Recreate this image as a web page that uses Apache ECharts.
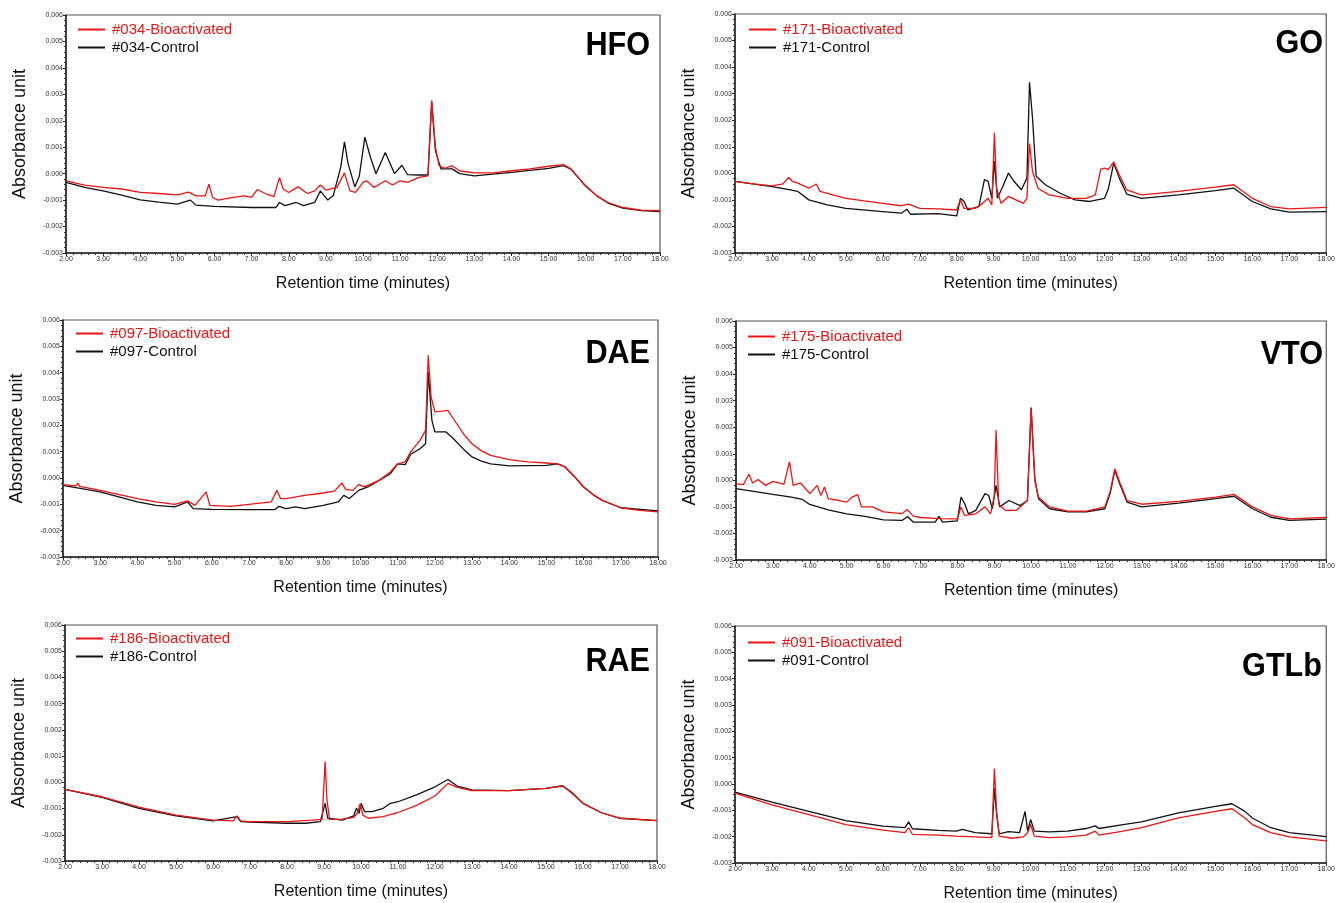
<!DOCTYPE html>
<html>
<head>
<meta charset="utf-8">
<title>Chromatograms</title>
<script src="https://cdn.jsdelivr.net/npm/echarts@6.0.0/dist/echarts.min.js"></script>
<style>
  html, body { margin: 0; padding: 0; background: #fff; }
  #chart { width: 1338px; height: 903px; }
</style>
</head>
<body>
<div id="chart"></div>
<script>
// retention time (min), absorbance
var hfoRed = [[2.0,-0.00027],[2.5,-0.00043],[3.0,-0.00052],[3.5,-0.00058],[4.0,-0.00071],[4.5,-0.00075],[5.0,-0.0008],[5.3,-0.0007],[5.5,-0.00084],[5.75,-0.00084],[5.85,-0.0004],[5.95,-0.0009],[6.1,-0.001],[6.5,-0.0009],[6.8,-0.00084],[7.0,-0.0009],[7.15,-0.0006],[7.4,-0.00077],[7.6,-0.00087],[7.75,-0.00015],[7.85,-0.00058],[8.0,-0.00071],[8.25,-0.0005],[8.5,-0.00075],[8.7,-0.00065],[8.85,-0.00043],[9.0,-0.00062],[9.3,-0.00052],[9.5,0.00003],[9.65,-0.00065],[9.8,-0.00071],[10.0,-0.00033],[10.1,-0.00027],[10.3,-0.00052],[10.6,-0.00027],[10.8,-0.00043],[11.0,-0.00027],[11.2,-0.00033],[11.5,-0.00014],[11.75,-0.00008],[11.85,0.00277],[11.95,0.001],[12.05,0.0003],[12.2,0.0002],[12.4,0.0003],[12.6,0.00011],[13.0,0.00003],[13.5,0.00003],[14.0,0.00011],[14.5,0.00018],[15.0,0.00028],[15.4,0.00034],[15.6,0.00018],[16.0,-0.00046],[16.3,-0.00084],[16.6,-0.00109],[17.0,-0.00128],[17.5,-0.00138],[18.0,-0.0014]];
var hfoBlack = [[2.0,-0.00033],[2.5,-0.00052],[3.0,-0.00065],[3.5,-0.00081],[4.0,-0.00099],[4.5,-0.00108],[5.0,-0.00115],[5.35,-0.001],[5.5,-0.00119],[6.0,-0.00124],[7.0,-0.00128],[7.65,-0.00128],[7.75,-0.00109],[7.9,-0.00121],[8.2,-0.00109],[8.4,-0.00121],[8.7,-0.00109],[8.85,-0.00065],[9.05,-0.001],[9.2,-0.00083],[9.4,0.00025],[9.5,0.0012],[9.6,0.00037],[9.78,-0.0005],[9.9,-0.0001],[10.05,0.00138],[10.2,0.00062],[10.35,0.0],[10.6,0.0008],[10.85,0.0],[11.05,0.00032],[11.2,-0.00004],[11.5,-0.00005],[11.75,-0.00005],[11.85,0.00271],[11.95,0.00087],[12.1,0.00018],[12.4,0.00018],[12.6,0.0],[13.0,-0.00008],[14.0,0.00005],[15.0,0.0002],[15.4,0.0003],[15.6,0.00017],[16.0,-0.00048],[16.3,-0.00084],[16.6,-0.00111],[17.0,-0.0013],[17.5,-0.0014],[18.0,-0.00143]];

var goRed = [[2.0,-0.0003],[2.5,-0.0004],[3.0,-0.00047],[3.3,-0.0004],[3.45,-0.00015],[3.55,-0.0003],[3.7,-0.00037],[4.0,-0.00056],[4.2,-0.0004],[4.3,-0.00068],[5.0,-0.00094],[5.5,-0.00104],[6.0,-0.00113],[6.5,-0.00122],[6.7,-0.00116],[7.0,-0.00132],[7.5,-0.00134],[8.0,-0.00138],[8.1,-0.001],[8.2,-0.00132],[8.5,-0.00132],[8.7,-0.00113],[8.85,-0.00094],[8.95,-0.00119],[9.02,0.00153],[9.08,-0.00056],[9.2,-0.00113],[9.4,-0.00087],[9.6,-0.001],[9.8,-0.00113],[9.9,-0.00094],[9.97,0.00112],[10.05,0.00008],[10.2,-0.00056],[10.5,-0.00081],[11.0,-0.00094],[11.5,-0.00094],[11.75,-0.00081],[11.9,0.00016],[12.0,0.0002],[12.1,0.00014],[12.25,0.00043],[12.4,-0.00005],[12.6,-0.00062],[13.0,-0.00081],[14.0,-0.00068],[15.0,-0.00052],[15.5,-0.00043],[16.0,-0.00094],[16.5,-0.00125],[17.0,-0.00134],[18.0,-0.00128]];
var goBlack = [[2.0,-0.0003],[3.0,-0.0005],[3.5,-0.00062],[3.7,-0.00068],[4.0,-0.001],[4.5,-0.00119],[5.0,-0.00132],[6.0,-0.00144],[6.5,-0.0015],[6.65,-0.00135],[6.75,-0.00154],[7.5,-0.00152],[8.0,-0.0016],[8.1,-0.00094],[8.2,-0.00106],[8.3,-0.00138],[8.6,-0.00125],[8.75,-0.00024],[8.85,-0.0003],[8.95,-0.00094],[9.02,0.00046],[9.1,-0.00094],[9.25,-0.00049],[9.4,0.00001],[9.55,-0.0003],[9.75,-0.00062],[9.9,-0.00018],[9.97,0.00343],[10.05,0.0021],[10.15,-0.00011],[10.4,-0.00043],[10.8,-0.00075],[11.2,-0.001],[11.6,-0.00106],[12.0,-0.00094],[12.1,-0.0006],[12.25,0.00039],[12.4,-0.00018],[12.6,-0.00078],[13.0,-0.00094],[14.0,-0.00081],[15.0,-0.00065],[15.5,-0.00056],[16.0,-0.00106],[16.5,-0.00134],[17.0,-0.00146],[18.0,-0.00144]];

var daeRed = [[2.0,-0.00025],[2.35,-0.0003],[2.4,-0.00019],[2.45,-0.00032],[3.0,-0.00047],[4.0,-0.00078],[4.5,-0.00091],[5.0,-0.001],[5.35,-0.00087],[5.55,-0.00104],[5.85,-0.00053],[5.95,-0.00104],[6.5,-0.00108],[7.0,-0.001],[7.6,-0.00091],[7.75,-0.00047],[7.85,-0.00078],[8.0,-0.00078],[8.5,-0.00066],[9.0,-0.00057],[9.3,-0.0005],[9.5,-0.00019],[9.6,-0.00043],[9.8,-0.00047],[9.95,-0.00024],[10.1,-0.00034],[10.5,-0.00009],[10.8,0.00023],[11.0,0.00054],[11.2,0.00061],[11.35,0.00099],[11.6,0.00143],[11.75,0.00181],[11.82,0.00466],[11.9,0.00308],[12.0,0.00251],[12.2,0.00254],[12.35,0.00257],[12.5,0.00225],[12.8,0.00162],[13.0,0.0013],[13.25,0.00103],[13.5,0.00086],[14.0,0.0007],[14.5,0.00061],[15.0,0.00057],[15.3,0.00054],[15.5,0.00042],[15.75,0.00006],[16.0,-0.00034],[16.25,-0.00063],[16.5,-0.00085],[17.0,-0.00113],[17.5,-0.00123],[18.0,-0.00129]];
var daeBlack = [[2.0,-0.00028],[3.0,-0.00053],[4.0,-0.00091],[4.5,-0.00104],[5.0,-0.0011],[5.35,-0.00091],[5.5,-0.00116],[6.0,-0.00119],[7.0,-0.0012],[7.7,-0.0012],[7.8,-0.00108],[8.0,-0.00116],[8.25,-0.0011],[8.5,-0.00116],[9.0,-0.00104],[9.4,-0.00091],[9.55,-0.00066],[9.7,-0.00078],[9.95,-0.00047],[10.2,-0.00034],[10.5,-0.00009],[10.8,0.00016],[11.0,0.00054],[11.2,0.00051],[11.35,0.0009],[11.6,0.00111],[11.75,0.0013],[11.82,0.00402],[11.92,0.00219],[12.0,0.00175],[12.3,0.00175],[12.5,0.00149],[12.8,0.00105],[13.0,0.0008],[13.25,0.00064],[13.5,0.00054],[14.0,0.00046],[15.0,0.00048],[15.3,0.00054],[15.5,0.00042],[15.75,0.00006],[16.0,-0.00034],[16.25,-0.00063],[16.5,-0.00085],[17.0,-0.00113],[18.0,-0.00125]];

var vtoRed = [[2.0,-0.00013],[2.2,-0.00016],[2.35,0.00023],[2.45,-0.0001],[2.6,0.00003],[2.8,-0.00019],[3.0,-0.00004],[3.3,-0.00015],[3.45,0.0007],[3.55,-0.00019],[3.75,-0.0001],[4.0,-0.0005],[4.2,-0.00019],[4.3,-0.00057],[4.4,-0.00025],[4.5,-0.00069],[4.8,-0.00076],[5.0,-0.00082],[5.15,-0.00063],[5.3,-0.00054],[5.4,-0.001],[5.7,-0.001],[6.0,-0.00119],[6.5,-0.00125],[6.65,-0.0011],[6.8,-0.00135],[7.0,-0.0014],[7.5,-0.00144],[8.0,-0.00145],[8.1,-0.001],[8.2,-0.00132],[8.5,-0.00126],[8.75,-0.001],[8.9,-0.00126],[9.0,-0.0006],[9.05,0.00189],[9.12,-0.0009],[9.3,-0.00113],[9.6,-0.00113],[9.9,-0.00076],[10.0,0.0027],[10.1,0.0],[10.2,-0.00063],[10.5,-0.001],[11.0,-0.00116],[11.5,-0.00116],[12.0,-0.001],[12.15,-0.00038],[12.27,0.00044],[12.4,-0.00006],[12.6,-0.00076],[13.0,-0.0009],[14.0,-0.00079],[15.0,-0.00063],[15.5,-0.00053],[16.0,-0.001],[16.5,-0.00132],[17.0,-0.00145],[18.0,-0.0014]];
var vtoBlack = [[2.0,-0.00031],[3.0,-0.00053],[3.5,-0.00063],[3.8,-0.00072],[4.0,-0.00091],[4.5,-0.00111],[5.0,-0.00126],[5.5,-0.00136],[6.0,-0.00149],[6.5,-0.00151],[6.65,-0.00136],[6.8,-0.00157],[7.4,-0.00157],[7.5,-0.00136],[7.6,-0.00157],[8.0,-0.00153],[8.1,-0.00063],[8.2,-0.00088],[8.3,-0.00126],[8.5,-0.00113],[8.75,-0.0005],[8.85,-0.00057],[8.95,-0.00107],[9.05,-0.00019],[9.15,-0.001],[9.4,-0.00076],[9.7,-0.00095],[9.9,-0.00076],[10.0,0.00274],[10.1,0.00006],[10.2,-0.00069],[10.5,-0.00107],[11.0,-0.00119],[11.5,-0.00119],[12.0,-0.00107],[12.15,-0.00044],[12.27,0.00038],[12.4,-0.00013],[12.6,-0.00082],[13.0,-0.001],[14.0,-0.00086],[15.0,-0.00069],[15.5,-0.0006],[16.0,-0.00107],[16.5,-0.00139],[17.0,-0.00151],[18.0,-0.00146]];

var raeRed = [[2.0,-0.00027],[3.0,-0.00055],[4.0,-0.00095],[5.0,-0.00125],[6.0,-0.00144],[6.55,-0.00147],[6.65,-0.00128],[6.75,-0.00147],[7.0,-0.0015],[8.0,-0.0015],[8.7,-0.00144],[8.95,-0.00141],[9.03,0.00079],[9.08,-0.00067],[9.15,-0.00141],[9.5,-0.0014],[9.8,-0.00134],[9.9,-0.00118],[9.98,-0.0008],[10.05,-0.00125],[10.2,-0.00137],[10.6,-0.00131],[11.0,-0.00115],[11.5,-0.00088],[12.0,-0.00052],[12.35,-0.00004],[12.6,-0.00019],[13.0,-0.00032],[14.0,-0.00032],[15.0,-0.00023],[15.45,-0.00014],[15.7,-0.00042],[16.0,-0.0008],[16.5,-0.00116],[17.0,-0.00137],[18.0,-0.00146]];
var raeBlack = [[2.0,-0.00027],[3.0,-0.00057],[4.0,-0.00099],[5.0,-0.00128],[6.0,-0.00147],[6.65,-0.00131],[6.75,-0.0015],[7.0,-0.00152],[8.0,-0.00156],[8.5,-0.00156],[8.9,-0.0015],[9.03,-0.0008],[9.1,-0.00137],[9.5,-0.00144],[9.8,-0.00128],[9.88,-0.00099],[9.95,-0.00118],[10.0,-0.0008],[10.1,-0.00112],[10.3,-0.00112],[10.6,-0.00099],[10.8,-0.0008],[11.0,-0.00074],[11.5,-0.00048],[12.0,-0.00017],[12.35,0.00011],[12.6,-0.00014],[13.0,-0.00029],[14.0,-0.00032],[15.0,-0.00023],[15.45,-0.00013],[15.7,-0.00039],[16.0,-0.0008],[16.5,-0.00116],[17.0,-0.00137],[18.0,-0.00146]];

var gtlRed = [[2.0,-0.00035],[3.0,-0.00079],[4.0,-0.00116],[5.0,-0.00154],[6.0,-0.00175],[6.6,-0.00185],[6.7,-0.00166],[6.8,-0.00191],[7.5,-0.00194],[8.0,-0.00198],[8.5,-0.00201],[8.95,-0.00204],[9.02,0.00059],[9.08,-0.00105],[9.15,-0.00198],[9.5,-0.00206],[9.8,-0.00201],[9.92,-0.00185],[10.0,-0.00154],[10.1,-0.00198],[10.5,-0.00204],[11.0,-0.00201],[11.5,-0.00194],[11.75,-0.00179],[11.85,-0.00194],[12.5,-0.00179],[13.0,-0.00166],[14.0,-0.00129],[15.0,-0.00104],[15.45,-0.00094],[15.8,-0.00129],[16.0,-0.00154],[16.5,-0.00185],[17.0,-0.00201],[18.0,-0.00216]];
var gtlBlack = [[2.0,-0.00031],[3.0,-0.00069],[4.0,-0.00104],[5.0,-0.00139],[6.0,-0.0016],[6.6,-0.00166],[6.7,-0.00144],[6.8,-0.0017],[7.5,-0.00176],[8.0,-0.00179],[8.15,-0.00172],[8.5,-0.00185],[8.95,-0.00189],[9.02,-0.00016],[9.08,-0.00116],[9.15,-0.00189],[9.4,-0.00181],[9.7,-0.00185],[9.85,-0.00104],[9.92,-0.00179],[10.0,-0.00135],[10.1,-0.00179],[10.5,-0.00182],[11.0,-0.00179],[11.5,-0.00169],[11.75,-0.00159],[11.85,-0.00169],[12.5,-0.00154],[13.0,-0.00144],[14.0,-0.0011],[15.0,-0.00085],[15.45,-0.00075],[15.8,-0.00104],[16.0,-0.00129],[16.5,-0.00166],[17.0,-0.00185],[18.0,-0.002]];

var tags = ['HFO', 'GO', 'DAE', 'VTO', 'RAE', 'GTLb'];
var sampleIds = ['#034', '#171', '#097', '#175', '#186', '#091'];
var redSets = [hfoRed, goRed, daeRed, vtoRed, raeRed, gtlRed];
var blackSets = [hfoBlack, goBlack, daeBlack, vtoBlack, raeBlack, gtlBlack];

// axis ranges / ticks
var xMin = 2, xMax = 18, xStep = 1;
var yMin = -0.003, yMax = 0.006, yStep = 0.001;

// layout of the 6 panels (pixels)
var boxes = [
    { left: 66,  top: 15,  width: 594, height: 238 },
    { left: 735, top: 14,  width: 593, height: 239 },
    { left: 63,  top: 320, width: 595, height: 237 },
    { left: 736, top: 321, width: 592, height: 239 },
    { left: 65,  top: 625, width: 592, height: 236 },
    { left: 735, top: 626, width: 593, height: 240 }
];
var legendPos = [[78, 22], [749, 22], [76, 326], [748, 329], [76, 631], [748, 635]];
var tagPos = [[650, 46], [1323, 44], [650, 354], [1323, 355], [650, 662], [1322, 667]];

var RED = '#ee1414';
var BLACK = '#111111';
var FONT = '"Liberation Sans", Arial, sans-serif';

var chart = echarts.init(document.getElementById('chart'), null, { renderer: 'canvas' });

var grid = [], xAxis = [], yAxis = [], series = [], legend = [], graphic = [];

boxes.forEach(function (b, i) {
    grid.push({
        left: b.left, top: b.top, width: b.width, height: b.height,
        show: true, borderColor: '#555', borderWidth: 1.2, backgroundColor: '#fff'
    });
    xAxis.push({
        type: 'value', gridIndex: i, min: xMin, max: xMax, interval: xStep,
        name: 'Retention time (minutes)', nameLocation: 'middle', nameGap: 23,
        nameTextStyle: { fontSize: 16, color: '#111', fontFamily: FONT },
        axisLine: { show: true, onZero: false, lineStyle: { color: '#222', width: 1.5 } },
        axisTick: { show: true, length: 3, inside: false, lineStyle: { color: '#222' } },
        minorTick: { show: true, splitNumber: 5, length: 2, lineStyle: { color: '#333' } },
        splitLine: { show: false },
        axisLabel: {
            fontSize: 7, color: '#333', margin: 3, fontFamily: FONT,
            formatter: function (v) { return v.toFixed(2); }
        }
    });
    yAxis.push({
        type: 'value', gridIndex: i, min: yMin, max: yMax, interval: yStep,
        name: 'Absorbance unit', nameLocation: 'middle', nameGap: 37, nameRotate: 90,
        nameTextStyle: { fontSize: 18, color: '#111', fontFamily: FONT },
        axisLine: { show: true, onZero: false, lineStyle: { color: '#222', width: 1.5 } },
        axisTick: { show: true, length: 3, lineStyle: { color: '#222' } },
        minorTick: { show: true, splitNumber: 5, length: 2, lineStyle: { color: '#333' } },
        splitLine: { show: false },
        axisLabel: {
            fontSize: 7, color: '#333', margin: 3, fontFamily: FONT,
            formatter: function (v) { return v.toFixed(3); }
        }
    });

    var redName = sampleIds[i] + '-Bioactivated';
    var blackName = sampleIds[i] + '-Control';

    series.push({
        name: blackName, type: 'line', xAxisIndex: i, yAxisIndex: i,
        data: blackSets[i], symbol: 'none', smooth: false,
        lineStyle: { color: BLACK, width: 1.3 }, itemStyle: { color: BLACK },
        animation: false
    });
    series.push({
        name: redName, type: 'line', xAxisIndex: i, yAxisIndex: i,
        data: redSets[i], symbol: 'none', smooth: false,
        lineStyle: { color: RED, width: 1.3 }, itemStyle: { color: RED },
        animation: false
    });

    legend.push({
        orient: 'vertical', left: legendPos[i][0], top: legendPos[i][1],
        padding: 0, itemWidth: 27, itemHeight: 2, itemGap: 3, icon: 'rect',
        selectedMode: false,
        textStyle: { fontSize: 15, color: '#111', fontFamily: FONT, padding: [0, 0, 0, 2] },
        data: [
            { name: redName, textStyle: { color: RED } },
            { name: blackName }
        ]
    });

    graphic.push({
        type: 'text', x: tagPos[i][0], y: tagPos[i][1], scaleX: 0.9,
        style: {
            text: tags[i], fill: '#000',
            font: 'bold 34px ' + FONT,
            align: 'right', verticalAlign: 'middle',
            textAlign: 'right', textVerticalAlign: 'middle'
        }
    });
});

chart.setOption({
    backgroundColor: '#fff',
    animation: false,
    grid: grid,
    xAxis: xAxis,
    yAxis: yAxis,
    legend: legend,
    graphic: graphic,
    series: series
});
</script>
</body>
</html>
